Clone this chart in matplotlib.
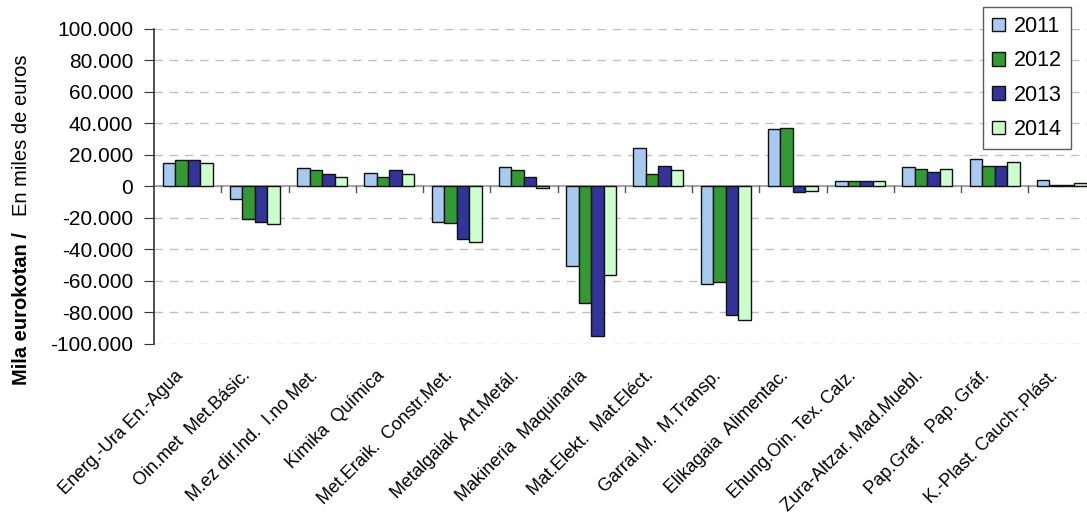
import matplotlib
matplotlib.use("Agg")
import matplotlib.pyplot as plt
import numpy as np
from matplotlib.ticker import FuncFormatter, MultipleLocator
from matplotlib.transforms import ScaledTranslation

categories = ["Energ.-Ura En.-Agua", "Oin.met  Met.Básic.", "M.ez dir.Ind.  I.no Met.",
              "Kimika  Química", "Met.Eraik.  Constr.Met.", "Metalgaiak  Art.Metál.",
              "Makineria  Maquinaria", "Mat.Elekt.  Mat.Eléct.", "Garrai.M.  M.Transp.",
              "Elikagaia  Alimentac.", "Ehung.Oin. Tex. Calz.", "Zura-Altzar. Mad.Muebl.",
              "Pap.Graf.  Pap. Gráf.", "K.-Plast. Cauch-.Plást."]
years = ["2011", "2012", "2013", "2014"]
v2011 = [14500, -8000, 11500, 8500, -22500, 12000, -50500, 24000, -62500, 36000, 3000, 12000, 17000, 4000]
v2012 = [16500, -21000, 10500, 5500, -23500, 10000, -74000, 8000, -61000, 37000, 3000, 11000, 13000, 500]
v2013 = [16500, -23000, 7500, 10000, -33500, 6000, -95500, 13000, -82000, -4000, 3000, 9000, 13000, 500]
v2014 = [14500, -24000, 5500, 8000, -35500, -1000, -56500, 10000, -85000, -3000, 3000, 11000, 15000, 2000]
series = [v2011, v2012, v2013, v2014]
colors = ["#A6CAF0", "#339933", "#333399", "#CCFFCC"]

plt.rcParams['font.family'] = ['Liberation Sans', 'DejaVu Sans']

W, H = 1087, 514
fig = plt.figure(figsize=(W / 100, H / 100), dpi=100)
left_px, right_px, top_px, bot_px = 154, 1087, 28.7, 343.5
ax = fig.add_axes([left_px / W, 1 - bot_px / H, (right_px - left_px) / W, (bot_px - top_px) / H])

n = len(categories)
x = np.arange(n)
bw = 0.186
for i, (vals, c, yr) in enumerate(zip(series, colors, years)):
    ax.bar(x + (i - 1.5) * bw, vals, width=bw, color=c, edgecolor="#111111", linewidth=1.0, label=yr, zorder=3)

cat_px = 67.25
ax.set_xlim(-0.5, -0.5 + (right_px - left_px) / cat_px)
ax.set_ylim(-100000, 100000)
ax.yaxis.set_major_locator(MultipleLocator(20000))
ax.yaxis.set_major_formatter(FuncFormatter(lambda v, p: f"{int(v):,}".replace(",", ".")))
ax.grid(axis="y", color="#C0C0C0", linestyle=(0, (6, 5)), linewidth=1, zorder=0)
ax.axhline(0, color="#999999", linewidth=1.2, zorder=2)

for s in ["top", "right", "bottom"]:
    ax.spines[s].set_visible(False)
ax.spines["left"].set_color("#333333")
ax.spines["left"].set_linewidth(1.2)

ax.set_xticks(x)
ax.set_xticklabels(categories, rotation=45, ha="right", rotation_mode="anchor", fontsize=13)
ax.tick_params(axis="x", length=0, pad=17)
for b in np.arange(n - 1) + 0.5:
    ax.plot([b, b], [0, -3500], color="#555555", linewidth=1, zorder=2, clip_on=False)
ax.tick_params(axis="y", labelsize=15, length=7, color="#333333", pad=8)

offset = ScaledTranslation(-13 / 100, 0, fig.dpi_scale_trans)
for lab in ax.get_xticklabels():
    lab.set_transform(lab.get_transform() + offset)

leg = ax.legend(loc="upper right", bbox_to_anchor=((1071 - left_px) / (right_px - left_px), 1 + (top_px - 7) / (bot_px - top_px)),
                fontsize=15.5, frameon=True, fancybox=False, edgecolor="#333333", handlelength=0.6, handleheight=0.6,
                labelspacing=0.62, borderpad=0.42, handletextpad=0.42, borderaxespad=0)
leg.get_frame().set_linewidth(1)

fig.text(22 / W, 1 - 385 / H, "Mila eurokotan /", rotation=90, ha="center", va="bottom", fontsize=14.5, fontweight="bold")
fig.text(22 / W, 1 - 216 / H, "En miles de euros", rotation=90, ha="center", va="bottom", fontsize=14.5)

fig.savefig("out.png", dpi=100)
